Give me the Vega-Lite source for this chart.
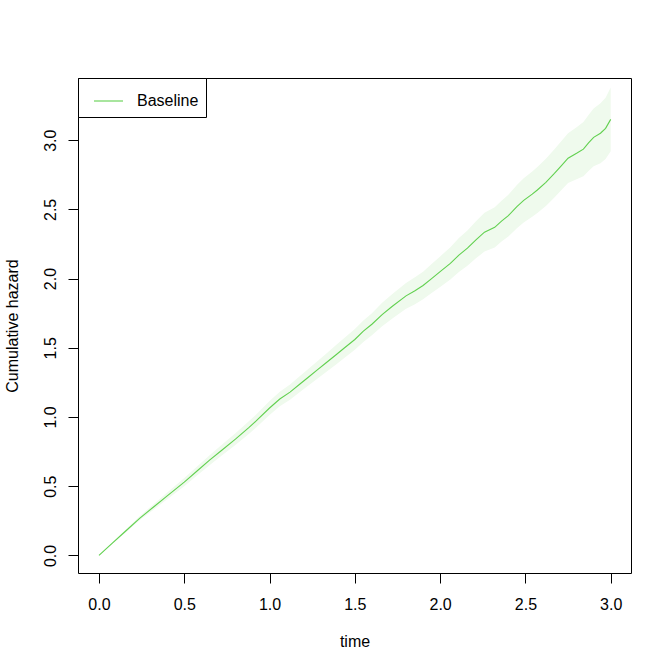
{
  "$schema": "https://vega.github.io/schema/vega-lite/v6.json",
  "autosize": {"type": "none"},
  "width": 553,
  "height": 495,
  "padding": {"left": 78, "top": 78, "right": 41, "bottom": 99},
  "background": "white",
  "data": {"values": [
    {"t": 0.00, "H": 0.00, "lo": 0.000, "hi": 0.000},
    {"t": 0.08, "H": 0.09, "lo": 0.085, "hi": 0.095},
    {"t": 0.16, "H": 0.18, "lo": 0.170, "hi": 0.190},
    {"t": 0.24, "H": 0.27, "lo": 0.255, "hi": 0.285},
    {"t": 0.32, "H": 0.35, "lo": 0.330, "hi": 0.370},
    {"t": 0.40, "H": 0.43, "lo": 0.406, "hi": 0.454},
    {"t": 0.50, "H": 0.53, "lo": 0.500, "hi": 0.560},
    {"t": 0.58, "H": 0.615, "lo": 0.582, "hi": 0.648},
    {"t": 0.65, "H": 0.69, "lo": 0.654, "hi": 0.726},
    {"t": 0.72, "H": 0.76, "lo": 0.721, "hi": 0.799},
    {"t": 0.80, "H": 0.84, "lo": 0.798, "hi": 0.882},
    {"t": 0.88, "H": 0.925, "lo": 0.879, "hi": 0.971},
    {"t": 0.92, "H": 0.97, "lo": 0.923, "hi": 1.017},
    {"t": 1.00, "H": 1.065, "lo": 1.015, "hi": 1.115},
    {"t": 1.06, "H": 1.13, "lo": 1.077, "hi": 1.183},
    {"t": 1.12, "H": 1.18, "lo": 1.125, "hi": 1.235},
    {"t": 1.18, "H": 1.24, "lo": 1.182, "hi": 1.298},
    {"t": 1.22, "H": 1.28, "lo": 1.220, "hi": 1.340},
    {"t": 1.28, "H": 1.34, "lo": 1.277, "hi": 1.403},
    {"t": 1.33, "H": 1.39, "lo": 1.324, "hi": 1.456},
    {"t": 1.39, "H": 1.45, "lo": 1.380, "hi": 1.520},
    {"t": 1.44, "H": 1.50, "lo": 1.428, "hi": 1.572},
    {"t": 1.50, "H": 1.56, "lo": 1.485, "hi": 1.635},
    {"t": 1.55, "H": 1.62, "lo": 1.542, "hi": 1.698},
    {"t": 1.60, "H": 1.67, "lo": 1.590, "hi": 1.750},
    {"t": 1.66, "H": 1.74, "lo": 1.655, "hi": 1.825},
    {"t": 1.72, "H": 1.80, "lo": 1.712, "hi": 1.888},
    {"t": 1.80, "H": 1.875, "lo": 1.782, "hi": 1.968},
    {"t": 1.85, "H": 1.91, "lo": 1.813, "hi": 2.007},
    {"t": 1.90, "H": 1.95, "lo": 1.850, "hi": 2.050},
    {"t": 1.95, "H": 2.00, "lo": 1.895, "hi": 2.105},
    {"t": 2.00, "H": 2.05, "lo": 1.940, "hi": 2.160},
    {"t": 2.06, "H": 2.11, "lo": 1.993, "hi": 2.227},
    {"t": 2.11, "H": 2.17, "lo": 2.047, "hi": 2.293},
    {"t": 2.16, "H": 2.22, "lo": 2.092, "hi": 2.348},
    {"t": 2.21, "H": 2.28, "lo": 2.146, "hi": 2.414},
    {"t": 2.26, "H": 2.335, "lo": 2.195, "hi": 2.475},
    {"t": 2.32, "H": 2.37, "lo": 2.225, "hi": 2.515},
    {"t": 2.36, "H": 2.415, "lo": 2.267, "hi": 2.563},
    {"t": 2.40, "H": 2.455, "lo": 2.304, "hi": 2.606},
    {"t": 2.45, "H": 2.52, "lo": 2.364, "hi": 2.676},
    {"t": 2.49, "H": 2.565, "lo": 2.405, "hi": 2.725},
    {"t": 2.54, "H": 2.61, "lo": 2.446, "hi": 2.774},
    {"t": 2.57, "H": 2.64, "lo": 2.474, "hi": 2.806},
    {"t": 2.62, "H": 2.695, "lo": 2.525, "hi": 2.865},
    {"t": 2.67, "H": 2.76, "lo": 2.586, "hi": 2.934},
    {"t": 2.71, "H": 2.815, "lo": 2.638, "hi": 2.992},
    {"t": 2.75, "H": 2.87, "lo": 2.690, "hi": 3.050},
    {"t": 2.80, "H": 2.905, "lo": 2.717, "hi": 3.093},
    {"t": 2.84, "H": 2.935, "lo": 2.739, "hi": 3.131},
    {"t": 2.87, "H": 2.98, "lo": 2.778, "hi": 3.182},
    {"t": 2.90, "H": 3.02, "lo": 2.812, "hi": 3.228},
    {"t": 2.94, "H": 3.05, "lo": 2.834, "hi": 3.266},
    {"t": 2.97, "H": 3.085, "lo": 2.863, "hi": 3.307},
    {"t": 3.00, "H": 3.15, "lo": 2.920, "hi": 3.380}
  ]},
  "encoding": {
    "x": {
      "field": "t", "type": "quantitative",
      "scale": {"domain": [-0.123, 3.119], "nice": false, "zero": false},
      "axis": {
        "title": "time", "values": [0, 0.5, 1, 1.5, 2, 2.5, 3], "format": ".1f",
        "labelBaseline": "alphabetic", "labelPadding": 26.5,
        "titleY": 73.5, "titleBaseline": "alphabetic"
      }
    }
  },
  "layer": [
    {
      "mark": {"type": "area", "color": "#EFFAED", "opacity": 1},
      "encoding": {
        "y": {
          "field": "lo", "type": "quantitative",
          "scale": {"domain": [-0.127, 3.449], "nice": false, "zero": false},
          "axis": {
            "title": "Cumulative hazard", "values": [0, 0.5, 1, 1.5, 2, 2.5, 3], "format": ".1f",
            "labelAngle": 270, "labelAlign": "center", "labelBaseline": "alphabetic", "labelPadding": 12.5,
            "titleAngle": 270, "titleAlign": "center", "titleBaseline": "alphabetic", "titleX": -60.2, "titleY": 247.5
          }
        },
        "y2": {"field": "hi"}
      }
    },
    {
      "mark": {"type": "line", "strokeWidth": 1.1},
      "encoding": {
        "y": {"field": "H", "type": "quantitative"},
        "color": {
          "datum": "Baseline", "type": "nominal",
          "scale": {"range": ["#61D04F"]},
          "legend": {
            "orient": "none", "legendX": 0, "legendY": 0, "title": null,
            "symbolType": "stroke", "symbolSize": 841, "symbolStrokeWidth": 1.1,
            "strokeColor": "black", "fillColor": "white", "padding": 7.5,
            "symbolOffset": 7.5, "labelOffset": 13, "labelFontSize": 16,
            "labelColor": "black", "labelFont": "Liberation Sans"
          }
        }
      }
    }
  ],
  "config": {
    "font": "Liberation Sans",
    "view": {"stroke": "black", "strokeWidth": 1},
    "axis": {
      "domain": false, "grid": false,
      "tickColor": "black", "tickSize": 10, "tickWidth": 1,
      "labelFontSize": 16, "labelColor": "black", "labelFont": "Liberation Sans",
      "titleFontSize": 16, "titleFontWeight": "normal", "titleColor": "black", "titleFont": "Liberation Sans",
      "labelOverlap": false, "labelFlush": false
    }
  }
}
